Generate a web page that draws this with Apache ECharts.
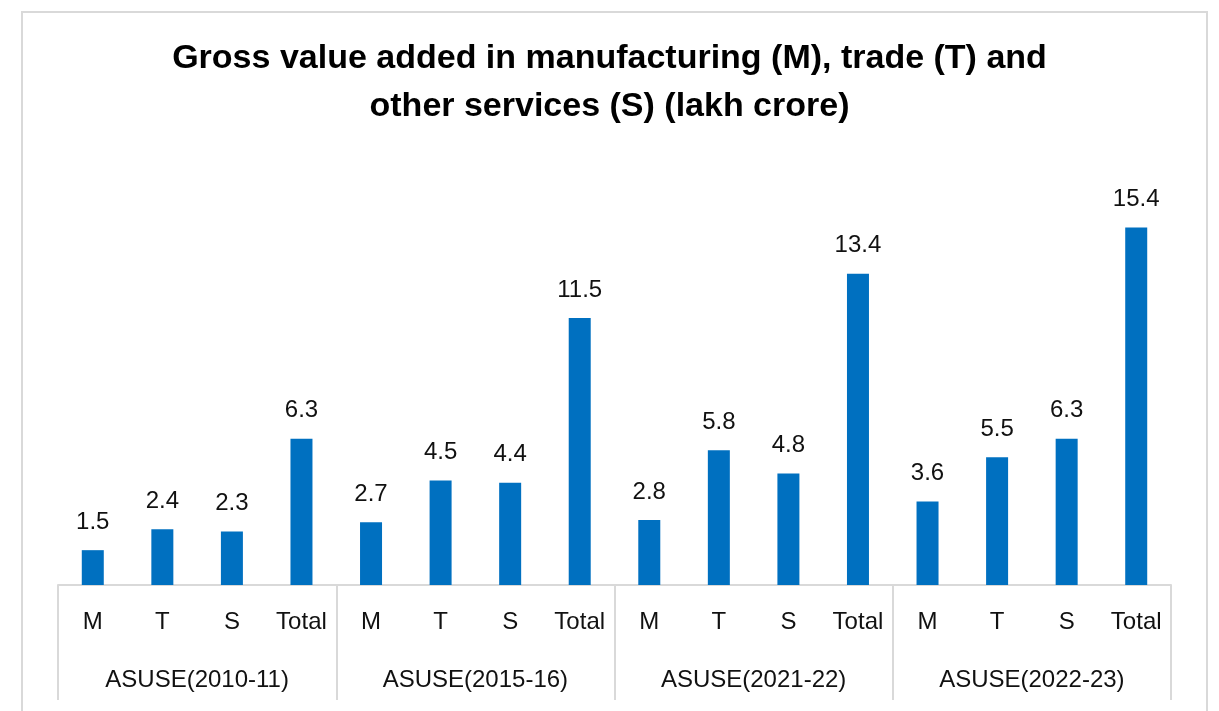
<!DOCTYPE html>
<html>
<head>
<meta charset="utf-8">
<script src="https://cdn.jsdelivr.net/npm/echarts@6/dist/echarts.min.js"></script>
<style>
  html, body { margin: 0; padding: 0; background: #fff; }
  #chart { width: 1219px; height: 711px; }
</style>
</head>
<body>
<div id="chart"></div>
<script>
// chart data
const groups = ['ASUSE(2010-11)', 'ASUSE(2015-16)', 'ASUSE(2021-22)', 'ASUSE(2022-23)']
const sectors = ['M', 'T', 'S', 'Total']
const gva = [
  1.5, 2.4, 2.3, 6.3,
  2.7, 4.5, 4.4, 11.5,
  2.8, 5.8, 4.8, 13.4,
  3.6, 5.5, 6.3, 15.4
]

const categories = []
groups.forEach(g => sectors.forEach(s => categories.push(s)))

const chart = echarts.init(document.getElementById('chart'))
const font = 'Liberation Sans'

chart.setOption({
  animation: false,
  title: {
    text: 'Gross value added in manufacturing (M), trade (T) and\nother services (S) (lakh crore)',
    left: 'center',
    top: 30,
    textStyle: {
      fontFamily: font,
      fontWeight: 'bold',
      fontSize: 34,
      lineHeight: 48,
      color: '#000'
    }
  },
  graphic: [{
    type: 'rect',
    shape: { x: 22, y: 12, width: 1185, height: 720 },
    style: { fill: 'none', stroke: '#d9d9d9', lineWidth: 2 },
    silent: true
  }],
  grid: {
    left: 58,
    right: 48,
    top: 167,
    bottom: 126
  },
  xAxis: [{
    type: 'category',
    data: categories,
    axisLine: { lineStyle: { color: '#d9d9d9', width: 2 } },
    axisTick: { show: false },
    axisLabel: {
      interval: 0,
      margin: 25,
      fontFamily: font,
      fontSize: 24,
      color: '#111'
    }
  }, {
    type: 'category',
    position: 'bottom',
    data: groups,
    axisLine: { show: false },
    axisTick: {
      show: true,
      length: 115,
      lineStyle: { color: '#d9d9d9', width: 2 }
    },
    axisLabel: {
      interval: 0,
      margin: 83,
      fontFamily: font,
      fontSize: 24,
      color: '#111'
    }
  }],
  yAxis: {
    type: 'value',
    min: 0,
    max: 18,
    show: false,
    splitLine: { show: false }
  },
  series: [{
    type: 'bar',
    data: gva,
    xAxisIndex: 0,
    barWidth: 22,
    itemStyle: { color: '#0070C0' },
    label: {
      show: true,
      position: 'top',
      distance: 16,
      fontFamily: font,
      fontSize: 24,
      color: '#111'
    }
  }]
})
</script>
</body>
</html>
